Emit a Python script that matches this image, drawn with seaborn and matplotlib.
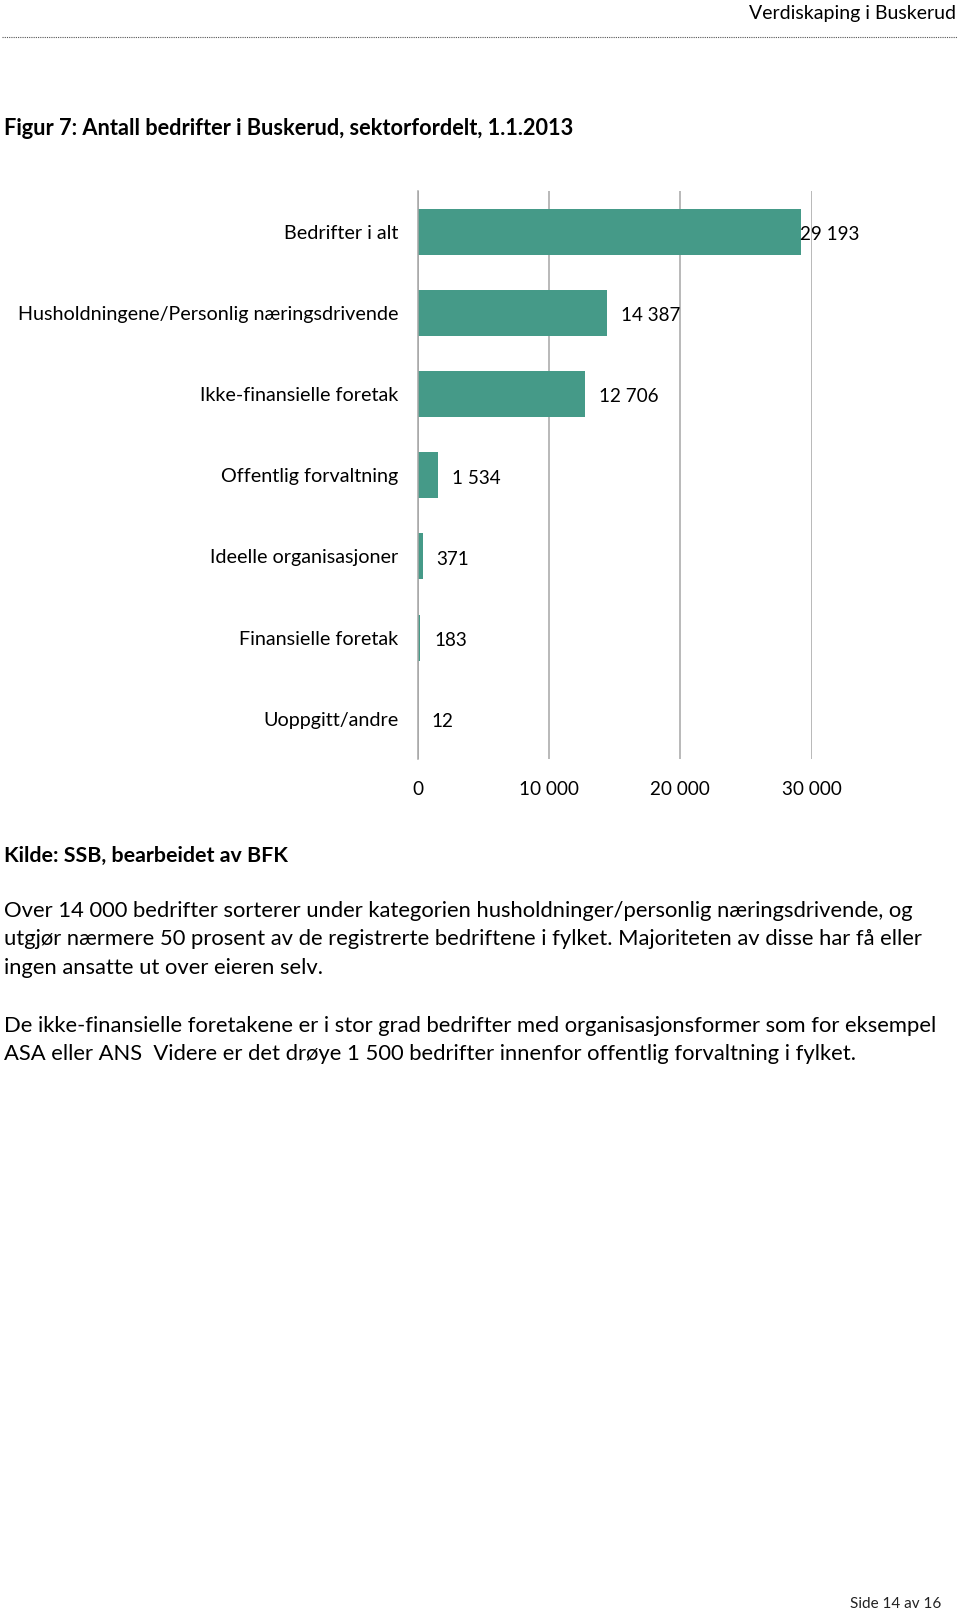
import matplotlib
matplotlib.use("Agg")
import matplotlib.pyplot as plt
import seaborn as sns
import pandas as pd
from matplotlib.lines import Line2D

categories = [
    "Bedrifter i alt",
    "Husholdningene/Personlig næringsdrivende",
    "Ikke-finansielle foretak",
    "Offentlig forvaltning",
    "Ideelle organisasjoner",
    "Finansielle foretak",
    "Uoppgitt/andre",
]
values = [29193, 14387, 12706, 1534, 371, 183, 12]
value_labels = ["29 193", "14 387", "12 706", "1 534", "371", "183", "12"]
x_ticks = [0, 10000, 20000, 30000]
x_tick_labels = ["0", "10 000", "20 000", "30 000"]

header = "Verdiskaping i Buskerud"
title = "Figur 7: Antall bedrifter i Buskerud, sektorfordelt, 1.1.2013"
source = "Kilde: SSB, bearbeidet av BFK"
para1 = [
    "Over 14 000 bedrifter sorterer under kategorien husholdninger/personlig næringsdrivende, og",
    "utgjør nærmere 50 prosent av de registrerte bedriftene i fylket. Majoriteten av disse har få eller",
    "ingen ansatte ut over eieren selv.",
]
para2 = [
    "De ikke-finansielle foretakene er i stor grad bedrifter med organisasjonsformer som for eksempel",
    "ASA eller ANS  Videre er det drøye 1 500 bedrifter innenfor offentlig forvaltning i fylket.",
]
footer = "Side 14 av 16"

sns.set_theme(style="white")
plt.rcParams["font.family"] = ["Lato", "DejaVu Sans"]

W, H = 960, 1612
fig = plt.figure(figsize=(W / 100, H / 100), dpi=100)
fig.patch.set_facecolor("white")

def px(x, y):
    return x / W, 1 - y / H

FS = 13.6
FS_CAT = 14.2
FS_BODY = 15.8
BAR = "#459A88"
GRID = "#A6A6A6"

# axes: x from 417.7 to 811.7, y from 191 to 759.3
ax_left, ax_right, ax_top, ax_bot = 417.7, 811.7, 191.0, 759.3
ax = fig.add_axes([ax_left / W, 1 - ax_bot / H, (ax_right - ax_left) / W, (ax_bot - ax_top) / H])

df = pd.DataFrame({"cat": categories, "val": values})
sns.barplot(data=df, x="val", y="cat", order=categories, color=BAR, width=0.567,
            saturation=1, ax=ax, orient="h")

ax.set_xlim(0, 30000)
ax.set_ylim(6.5, -0.5)
ax.set_xticks(x_ticks)
ax.set_xticklabels(x_tick_labels, fontsize=FS, color="black")
ax.set_xlabel("")
ax.set_ylabel("")
ax.tick_params(axis="y", labelsize=FS_CAT, colors="black", length=0, pad=14)
ax.tick_params(axis="x", length=0, pad=15.5)
for s in ["top", "right", "bottom"]:
    ax.spines[s].set_visible(False)
ax.spines["left"].set_color(GRID)
ax.spines["left"].set_linewidth(1.1)
ax.xaxis.grid(True, color=GRID, linewidth=1.1)
ax.yaxis.grid(False)
ax.set_axisbelow(True)
for b in ax.patches:
    b.set_edgecolor("none")

# value labels, clamped to chart area
max_px = 800 - ax_left  # clamp for the longest label
scale = (ax_right - ax_left) / 30000
for i, (v, lab) in enumerate(zip(values, value_labels)):
    end_px = v * scale
    off = 14 if end_px + 14 <= max_px else (max_px - end_px)
    ax.annotate(lab, xy=(v, i), xytext=(off, -3), textcoords="offset pixels",
                ha="left", va="center", fontsize=FS, color="black", annotation_clip=False)

# header
fig.text(*px(956, 14), header, ha="right", va="center", fontsize=14, color="black")
fig.add_artist(Line2D([2 / W, 957 / W], [1 - 37 / H, 1 - 37 / H], transform=fig.transFigure,
                      color="#555555", linestyle=(0, (1, 1)), linewidth=0.8))

# title
fig.text(*px(4, 128.5), title, ha="left", va="center", fontsize=15.7, fontweight="bold", color="black")

# source
fig.text(*px(4, 856), source, ha="left", va="center", fontsize=15.4, fontweight="bold", color="black")

# body paragraphs
for y, line in zip([910.6, 939.4, 968.2], para1):
    fig.text(*px(4, y), line, ha="left", va="center", fontsize=FS_BODY, color="black")
for y, line in zip([1025.8, 1054.5], para2):
    fig.text(*px(4, y), line, ha="left", va="center", fontsize=FS_BODY, color="black")

# footer
fig.text(*px(941, 1603.5), footer, ha="right", va="center", fontsize=11, color="#222222")

fig.savefig("out.png", dpi=100, facecolor="white")
